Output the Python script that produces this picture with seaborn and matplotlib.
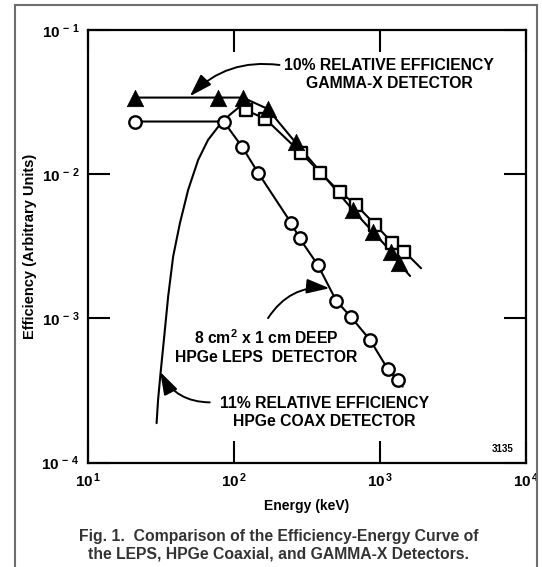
import matplotlib
matplotlib.use("Agg")
import matplotlib.pyplot as plt
import numpy as np
import pandas as pd
import seaborn as sns
from matplotlib.patches import Rectangle
from matplotlib.ticker import FixedLocator, FixedFormatter, NullLocator

# ---------------- data ----------------
gx_energy = [20.9, 78, 115, 170, 264, 650, 891, 1191, 1343]
gx_eff = [0.034, 0.034, 0.034, 0.0284, 0.0166, 0.00566, 0.0040, 0.00291, 0.00242]
gx_line_end_energy = [1607]
gx_line_end_eff = [0.00197]

coax_curve_energy = [29.5, 30.2, 31.4, 33.1, 35.4, 38.3, 42.6, 48.5, 56.8, 66.4, 79.8, 93.5, 109.4]
coax_curve_eff = [1.88e-4, 2.73e-4, 4.18e-4, 7.11e-4, 1.42e-3, 2.69e-3, 4.57e-3,
                  7.78e-3, 0.01256, 0.0173, 0.0220, 0.0258, 0.0294]
coax_energy = [120, 164, 289, 390, 528, 687, 931, 1211, 1468]
coax_eff = [0.0279, 0.0242, 0.0140, 0.01026, 0.00757, 0.00612, 0.00445, 0.00336, 0.00291]
coax_line_end_energy = [1910]
coax_line_end_eff = [0.00223]

leps_energy = [20.9, 85, 114, 146, 247, 281, 375, 501, 634, 855, 1130, 1322]
leps_eff = [0.0232, 0.0232, 0.0154, 0.01026, 0.00457, 0.0036, 0.00235, 0.00133,
            0.00102, 0.00071, 0.000446, 0.000375]
leps_line_end_energy = [1429]
leps_line_end_eff = [0.000337]

x_ticks = [10, 100, 1000, 10000]
x_tick_labels = [r"$\mathbf{10^{\,1}}$", r"$\mathbf{10^{\,2}}$", r"$\mathbf{10^{\,3}}$", r"$\mathbf{10^{\,4}}$"]
y_ticks = [1e-4, 1e-3, 1e-2, 1e-1]
y_tick_labels = [r"$\mathbf{10^{\,-\,4}}$", r"$\mathbf{10^{\,-\,3}}$", r"$\mathbf{10^{\,-\,2}}$", r"$\mathbf{10^{\,-\,1}}$"]

# ---------------- style ----------------
sns.set_theme(style="white")
plt.rcParams["font.family"] = ["Liberation Sans", "DejaVu Sans"]
plt.rcParams["font.weight"] = "bold"
plt.rcParams["mathtext.fontset"] = "custom"
plt.rcParams["mathtext.rm"] = "Liberation Sans:bold"
plt.rcParams["mathtext.bf"] = "Liberation Sans:bold"
plt.rcParams["mathtext.it"] = "Liberation Sans:bold"

fig = plt.figure(figsize=(5.42, 5.67), dpi=100)
fig.patch.set_facecolor("white")
ax = fig.add_axes([88 / 542, 1 - 462.7 / 567, 438 / 542, 432.7 / 567])
ax.set_facecolor("white")

LW = 1.5

# lines
df_gx = pd.DataFrame({"E": gx_energy + gx_line_end_energy, "eff": gx_eff + gx_line_end_eff})
df_coax = pd.DataFrame({"E": coax_curve_energy + coax_energy + coax_line_end_energy,
                        "eff": coax_curve_eff + coax_eff + coax_line_end_eff})
df_leps = pd.DataFrame({"E": leps_energy + leps_line_end_energy, "eff": leps_eff + leps_line_end_eff})
for d in (df_leps, df_coax, df_gx):
    sns.lineplot(data=d, x="E", y="eff", ax=ax, color="black", lw=LW,
                 estimator=None, sort=False, zorder=2)

# markers
sns.scatterplot(x=leps_energy, y=leps_eff, ax=ax, marker="o", s=80,
                facecolor="white", edgecolor="black", linewidth=1.7, zorder=4)
sns.scatterplot(x=coax_energy, y=coax_eff, ax=ax, marker="s", s=75,
                facecolor="white", edgecolor="black", linewidth=1.7, zorder=4)
sns.scatterplot(x=gx_energy, y=gx_eff, ax=ax, marker="^", s=140,
                facecolor="black", edgecolor="black", linewidth=0.5, zorder=5)

ax.set_xscale("log")
ax.set_yscale("log")
ax.set_xlim(10, 10000)
ax.set_ylim(1e-4, 1e-1)

ax.xaxis.set_major_locator(FixedLocator(x_ticks))
ax.xaxis.set_major_formatter(FixedFormatter(x_tick_labels))
ax.yaxis.set_major_locator(FixedLocator(y_ticks))
ax.yaxis.set_major_formatter(FixedFormatter(y_tick_labels))
ax.xaxis.set_minor_locator(NullLocator())
ax.yaxis.set_minor_locator(NullLocator())
ax.tick_params(axis="both", which="major", direction="in", length=16, width=1.5,
               color="black", labelsize=11, labelcolor="black",
               top=True, right=True, bottom=True, left=True)
ax.tick_params(axis="x", pad=6)
ax.tick_params(axis="y", pad=6)

for sp in ax.spines.values():
    sp.set_visible(True)
    sp.set_color("black")
    sp.set_linewidth(1.6)

ax.set_xlabel("Energy (keV)", fontsize=10, fontweight="bold", color="black", labelpad=7)
ax.set_ylabel("Efficiency (Arbitrary Units)", fontsize=10.5, fontweight="bold", color="black", labelpad=3)

# annotations
arrow_kw = dict(arrowstyle="-|>,head_length=1.0,head_width=0.32", color="black",
                lw=1.4, shrinkA=0, shrinkB=0, mutation_scale=14)
ax.annotate("", xy=(49.8, 0.0347), xytext=(205, 0.0572),
            arrowprops=dict(connectionstyle="arc3,rad=0.25", **arrow_kw))
ax.annotate("", xy=(451, 0.00162), xytext=(171, 0.001005),
            arrowprops=dict(connectionstyle="arc3,rad=-0.3", **arrow_kw))
ax.annotate("", xy=(31.2, 4.27e-4), xytext=(68.2, 2.62e-4),
            arrowprops=dict(connectionstyle="arc3,rad=-0.3", **arrow_kw))

tkw = dict(fontsize=11.3, fontweight="bold", color="black", ha="center", va="center",
           linespacing=1.25)
ax.text(1159, 0.0488, "10% RELATIVE EFFICIENCY\nGAMMA-X DETECTOR", **tkw)
ax.text(166, 6.38e-4, "8 cm$^{2}$ x 1 cm DEEP\nHPGe LEPS  DETECTOR", **tkw)
ax.text(417, 2.22e-4, "11% RELATIVE EFFICIENCY\nHPGe COAX DETECTOR", **tkw)
ax.text(0.947, 0.032, "3135", transform=ax.transAxes, fontsize=7, fontweight="bold",
        ha="center", va="center", color="black")

# caption
fig.text(279 / 542, 1 - 545 / 567,
         "Fig. 1.  Comparison of the Efficiency-Energy Curve of\nthe LEPS, HPGe Coaxial, and GAMMA-X Detectors.",
         ha="center", va="center", fontsize=11.3, fontweight="bold", color="#333333",
         linespacing=1.2)

# outer frame
fig.patches.append(Rectangle((15 / 542, -0.02), (537 - 15) / 542, 1.02 - 5 / 567,
                             transform=fig.transFigure, fill=False,
                             edgecolor="#6e6e6e", lw=1.5, zorder=0))

fig.savefig("out.png", dpi=100, facecolor="white")
